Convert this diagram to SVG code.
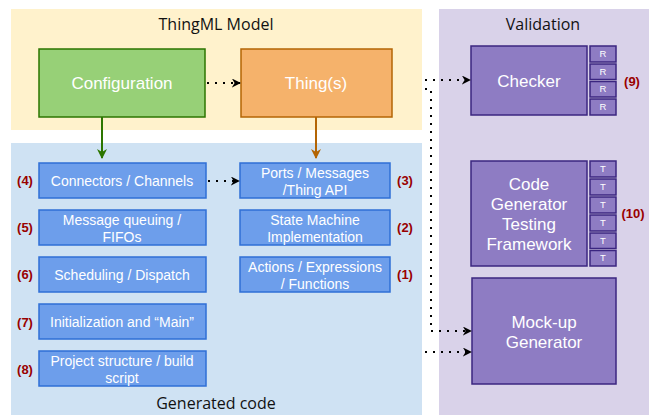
<svg xmlns="http://www.w3.org/2000/svg" width="654" height="415" viewBox="0 0 654 415">
<defs>
<marker id="ah" viewBox="0 0 10 10" refX="9" refY="5" markerWidth="9" markerHeight="9" markerUnits="userSpaceOnUse" orient="auto"><path d="M0,0 L10,5 L0,10 L3,5 Z" fill="#000"/></marker>
<marker id="ahg" viewBox="0 0 10 10" refX="9" refY="5" markerWidth="10" markerHeight="10" markerUnits="userSpaceOnUse" orient="auto"><path d="M0,0 L10,5 L0,10 L3,5 Z" fill="#2d7600"/></marker>
<marker id="aho" viewBox="0 0 10 10" refX="9" refY="5" markerWidth="10" markerHeight="10" markerUnits="userSpaceOnUse" orient="auto"><path d="M0,0 L10,5 L0,10 L3,5 Z" fill="#b46504"/></marker>
</defs>
<style>
.title{font-family:"Open Sans","Noto Sans",sans-serif;font-size:16px;fill:#111;text-anchor:middle}
.wt{font-family:"Liberation Sans",Arial,sans-serif;fill:#fff;text-anchor:middle}
.blue{fill:#6d9eeb;stroke:#2f6fd6;stroke-width:1.5}
.purp{fill:#8e7cc3;stroke:#3b2680;stroke-width:1.5}
.num{font-family:"Liberation Sans",Arial,sans-serif;font-size:13px;font-weight:bold;fill:#990000;text-anchor:middle}
.dot{fill:none;stroke:#000;stroke-width:2;stroke-dasharray:2 6}
.sm{font-family:"Liberation Sans",Arial,sans-serif;font-size:9.5px;fill:#fff;text-anchor:middle}
</style>
<rect width="654" height="415" fill="#fff"/>
<g id="connectors-hidden">
<path class="dot" d="M392 80 H424"/>
</g>
<g id="panel-thingml">
<rect x="11" y="9" width="411" height="121" fill="#fff2cc"/>
<text class="title" x="216" y="30">ThingML Model</text>
</g>
<g id="panel-generated">
<rect x="11" y="143" width="411" height="272" fill="#cfe2f3"/>
<text class="title" x="216" y="409">Generated code</text>
</g>
<g id="panel-validation">
<rect x="439" y="9" width="210" height="406" fill="#d9d2e9"/>
<text class="title" x="543" y="30">Validation</text>
</g>
<g id="configuration">
<rect x="39" y="49" width="166" height="68" fill="#97d077" stroke="#2d7600" stroke-width="1.5"/>
<text class="wt" x="122" y="89" font-size="17">Configuration</text>
</g>
<g id="things">
<rect x="241" y="49" width="151" height="68" fill="#f5b26b" stroke="#b46504" stroke-width="1.5"/>
<text class="wt" x="316" y="89" font-size="17">Thing(s)</text>
</g>
<g id="connectors-channels">
<rect class="blue" x="39" y="163" width="167" height="35"/>
<text class="wt" x="122" y="186" font-size="14">Connectors / Channels</text>
<text class="num" x="25" y="185">(4)</text>
</g>
<g id="message-queuing">
<rect class="blue" x="39" y="210" width="167" height="35"/>
<text class="wt" x="122" y="225" font-size="14">Message queuing /</text>
<text class="wt" x="122" y="242" font-size="14">FIFOs</text>
<text class="num" x="25" y="232">(5)</text>
</g>
<g id="scheduling">
<rect class="blue" x="39" y="257" width="167" height="35"/>
<text class="wt" x="122" y="280" font-size="14">Scheduling / Dispatch</text>
<text class="num" x="25" y="279">(6)</text>
</g>
<g id="initialization">
<rect class="blue" x="39" y="304" width="167" height="35"/>
<text class="wt" x="122" y="327" font-size="14">Initialization and “Main”</text>
<text class="num" x="25" y="327">(7)</text>
</g>
<g id="project-structure">
<rect class="blue" x="39" y="351" width="167" height="35"/>
<text class="wt" x="122" y="366" font-size="14">Project structure / build</text>
<text class="wt" x="122" y="383" font-size="14">script</text>
<text class="num" x="25" y="374">(8)</text>
</g>
<g id="ports-messages">
<rect class="blue" x="240" y="163" width="150" height="35"/>
<text class="wt" x="315" y="178" font-size="14">Ports / Messages</text>
<text class="wt" x="315" y="195" font-size="14">/Thing API</text>
<text class="num" x="405" y="185">(3)</text>
</g>
<g id="state-machine">
<rect class="blue" x="240" y="210" width="150" height="35"/>
<text class="wt" x="315" y="225" font-size="14">State Machine</text>
<text class="wt" x="315" y="242" font-size="14">Implementation</text>
<text class="num" x="405" y="232">(2)</text>
</g>
<g id="actions">
<rect class="blue" x="240" y="257" width="150" height="35"/>
<text class="wt" x="315" y="272" font-size="14">Actions / Expressions</text>
<text class="wt" x="315" y="289" font-size="14">/ Functions</text>
<text class="num" x="405" y="279">(1)</text>
</g>
<g id="checker">
<rect class="purp" x="471" y="46" width="116" height="69"/>
<text class="wt" x="529" y="87" font-size="17">Checker</text>
<rect class="purp" x="590" y="46" width="26" height="16"/>
<rect class="purp" x="590" y="64" width="26" height="15.5"/>
<rect class="purp" x="590" y="81.5" width="26" height="15.5"/>
<rect class="purp" x="590" y="99" width="26" height="16"/>
<text class="sm" x="603" y="57">R</text>
<text class="sm" x="603" y="75">R</text>
<text class="sm" x="603" y="92">R</text>
<text class="sm" x="603" y="110">R</text>
<text class="num" x="632" y="86">(9)</text>
</g>
<g id="testing-framework">
<rect class="purp" x="471" y="161" width="116" height="105"/>
<text class="wt" x="529" y="190" font-size="17">Code</text>
<text class="wt" x="529" y="210" font-size="17">Generator</text>
<text class="wt" x="529" y="230" font-size="17">Testing</text>
<text class="wt" x="529" y="250" font-size="17">Framework</text>
<rect class="purp" x="590" y="161" width="26" height="16"/>
<rect class="purp" x="590" y="179" width="26" height="16"/>
<rect class="purp" x="590" y="197" width="26" height="16"/>
<rect class="purp" x="590" y="215" width="26" height="16"/>
<rect class="purp" x="590" y="233" width="26" height="15.5"/>
<rect class="purp" x="590" y="250.5" width="26" height="15.5"/>
<text class="sm" x="603" y="172">T</text>
<text class="sm" x="603" y="190">T</text>
<text class="sm" x="603" y="208">T</text>
<text class="sm" x="603" y="226">T</text>
<text class="sm" x="603" y="244">T</text>
<text class="sm" x="603" y="261">T</text>
<text class="num" x="633" y="218">(10)</text>
</g>
<g id="mockup-generator">
<rect class="purp" x="472" y="278" width="144" height="106"/>
<text class="wt" x="544" y="328" font-size="17">Mock-up</text>
<text class="wt" x="544" y="348" font-size="17">Generator</text>
</g>
<g id="connectors">
<path d="M102 117 V158" stroke="#2d7600" stroke-width="2" fill="none" marker-end="url(#ahg)"/>
<path d="M316 117 V158" stroke="#b46504" stroke-width="2" fill="none" marker-end="url(#aho)"/>
<path class="dot" d="M207 83 H240" marker-end="url(#ah)"/>
<path class="dot" d="M208 181 H239" marker-end="url(#ah)"/>
<path class="dot" d="M425 80 H470" marker-end="url(#ah)"/>
<path class="dot" d="M425 89 H431 V331 H471" marker-end="url(#ah)"/>
<path class="dot" d="M425 352 H471" marker-end="url(#ah)"/>
</g>
</svg>
